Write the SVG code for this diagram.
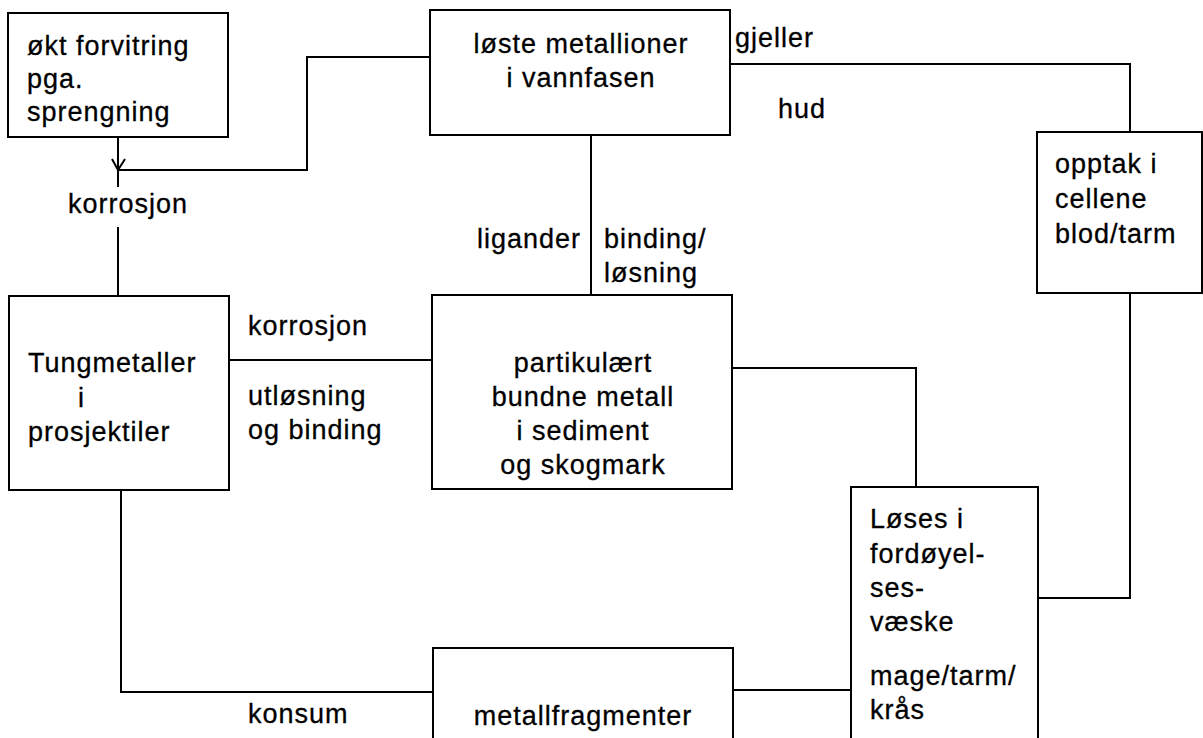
<svg xmlns="http://www.w3.org/2000/svg" width="1203" height="738" viewBox="0 0 1203 738">
  <style>
    .box { fill: #fff; stroke: #000; stroke-width: 2; }
    .ln { fill: none; stroke: #000; stroke-width: 2; }
    text { font-family: "Liberation Sans", Arial, sans-serif; font-size: 27px; letter-spacing: 1px; fill: #000; stroke: #000; stroke-width: 0.3px; }
    .c { text-anchor: middle; }
  </style>
  <rect width="1203" height="738" fill="#fff"/>
  <g id="connectors">
    <polyline class="ln" points="118,137 118,187"/>
    <polyline class="ln" points="118,227 118,296"/>
    <polyline class="ln" points="430,57 307,57 307,170 118,170"/>
    <polyline class="ln" points="112,159 118,170 125,159"/>
    <polyline class="ln" points="591,135 591,295"/>
    <polyline class="ln" points="730,64 1130,64 1130,132"/>
    <polyline class="ln" points="1130,293 1130,598 1038,598"/>
    <polyline class="ln" points="229,360 432,360"/>
    <polyline class="ln" points="732,368 916,368 916,487"/>
    <polyline class="ln" points="121,490 121,692 433,692"/>
    <polyline class="ln" points="733,690 851,690"/>
  </g>
  <g id="edge-labels">
    <text x="68" y="213">korrosjon</text>
    <text x="735" y="47">gjeller</text>
    <text x="778" y="118">hud</text>
    <text x="477" y="248">ligander</text>
    <text x="604" y="248">binding/</text>
    <text x="604" y="282">løsning</text>
    <text x="248" y="335">korrosjon</text>
    <text x="248" y="405">utløsning</text>
    <text x="248" y="439">og binding</text>
    <text x="248" y="723">konsum</text>
  </g>
  <g id="node-forvitring">
    <rect class="box" x="8" y="13" width="220" height="124"/>
    <text x="27" y="55">økt forvitring</text>
    <text x="27" y="88">pga.</text>
    <text x="27" y="121">sprengning</text>
  </g>
  <g id="node-metallioner">
    <rect class="box" x="430" y="10" width="300" height="125"/>
    <text class="c" x="581" y="53">løste metallioner</text>
    <text class="c" x="581" y="87">i vannfasen</text>
  </g>
  <g id="node-opptak">
    <rect class="box" x="1037" y="132" width="165" height="161"/>
    <text x="1055" y="173">opptak i</text>
    <text x="1055" y="208">cellene</text>
    <text x="1055" y="243">blod/tarm</text>
  </g>
  <g id="node-tungmetaller">
    <rect class="box" x="9" y="296" width="220" height="194"/>
    <text x="28" y="372">Tungmetaller</text>
    <text x="78" y="407">i</text>
    <text x="28" y="441">prosjektiler</text>
  </g>
  <g id="node-partikulaert">
    <rect class="box" x="432" y="295" width="300" height="194"/>
    <text class="c" x="583" y="372">partikulært</text>
    <text class="c" x="583" y="406">bundne metall</text>
    <text class="c" x="583" y="440">i sediment</text>
    <text class="c" x="583" y="474">og skogmark</text>
  </g>
  <g id="node-loses">
    <rect class="box" x="851" y="487" width="187" height="260"/>
    <text x="870" y="528">Løses i</text>
    <text x="870" y="563">fordøyel-</text>
    <text x="870" y="597">ses-</text>
    <text x="870" y="631">væske</text>
    <text x="870" y="685">mage/tarm/</text>
    <text x="870" y="719">krås</text>
  </g>
  <g id="node-metallfragmenter">
    <rect class="box" x="433" y="648" width="300" height="100"/>
    <text class="c" x="583" y="725">metallfragmenter</text>
  </g>
</svg>
